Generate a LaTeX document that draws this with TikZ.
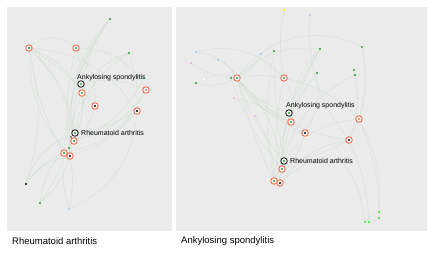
\documentclass[tikz,border=0pt]{standalone}
\usepackage{fontspec}
\setmainfont{Liberation Sans}
\usepackage{tikz}

\definecolor{panelgray}{HTML}{EBEBEB}
\definecolor{ringred}{HTML}{F26A4B}
\definecolor{dotgreen}{HTML}{2E9B2E}
\definecolor{linkgreen}{HTML}{D2E0D2}
\definecolor{paleblue}{HTML}{A9C8F0}
\definecolor{palepink}{HTML}{F2A6E0}
\definecolor{brightgreen}{HTML}{33E633}
\definecolor{dotteal}{HTML}{2A9A8A}
\definecolor{dotorange}{HTML}{E8862A}

\pgfdeclarelayer{bg}
\pgfdeclarelayer{panel}
\pgfsetlayers{panel,bg,main}

\tikzset{
    dot/.style={circle, fill=#1, inner sep=0pt, minimum size=2.2pt},
    hit/.style={circle, draw=ringred, line width=0.9pt, fill=white, inner sep=0pt, minimum size=6.5pt,
        path picture={\fill[#1] (path picture bounding box.center) circle (1.1pt);}},
    query/.style={hit=#1, draw=black!85},
    tag/.style={font=\fontsize{7}{8}\selectfont, inner sep=0pt, anchor=west},
    caption/.style={font=\fontsize{9.5}{11}\selectfont, inner sep=0pt, anchor=west}
}

\begin{document}
\begin{tikzpicture}[
    x=1pt, y=-1pt,
    every edge/.style={draw=linkgreen, line width=0.35pt, bend left=18} % faint curved links
]
\useasboundingbox (0,0) rectangle (436,258);

% Panels
\begin{pgfonlayer}{panel}
\fill[panelgray] (7,7) rectangle (172,231);
\fill[panelgray] (176,7) rectangle (427,231);
\end{pgfonlayer}

% Define the nodes (left panel)
\node[dot=dotgreen] (lA) at (110,19) {};
\node[hit=dotgreen] (lB) at (29,48) {};
\node[hit=dotgreen] (lC) at (76,48) {};
\node[dot=dotgreen] (lD) at (129,53) {};
\node[query=dotgreen] (lAS) at (81,84) {};
\node[tag] (lASt) at (77,78) {Ankylosing spondylitis};
\node[dot=dotteal] (lE) at (144,78) {};
\node[hit=dotgreen] (lF) at (82,93) {};
\node[hit=dotorange] (lG) at (146,90) {};
\node[hit=black] (lH) at (95,106) {};
\node[hit=black] (lI) at (137,111) {};
\node[query=dotgreen] (lRA) at (75,133) {};
\node[tag] (lRAt) at (81,133) {Rheumatoid arthritis};
\node[dot=dotgreen] (lJ) at (71,137) {};
\node[hit=dotgreen] (lK) at (74,141) {};
\node[dot=dotgreen] (lL) at (69,148) {};
\node[hit=dotgreen] (lM) at (64,153) {};
\node[hit=black] (lN) at (70,156) {};
\node[dot=black] (lO) at (26,184) {};
\node[dot=dotgreen] (lP) at (40,203) {};
\node[dot=paleblue] (lQ) at (69,209) {};

% Define the nodes (right panel)
\node[dot=yellow] (rA) at (284,10) {};
\node[dot=palepink] (rB) at (310,15) {};
\node[dot=paleblue] (rC) at (196,52) {};
\node[dot=paleblue] (rD) at (261,54) {};
\node[dot=dotgreen] (rE) at (274,51) {};
\node[dot=dotgreen] (rF) at (320,49) {};
\node[dot=dotgreen] (rG) at (362,47) {};
\node[dot=palepink] (rH) at (191,63) {};
\node[dot=paleblue] (rI) at (218,60) {};
\node[dot=dotgreen] (rJ) at (317,73) {};
\node[dot=dotgreen] (rK) at (354,70) {};
\node[dot=dotgreen] (rL) at (355,75) {};
\node[dot=white] (rM) at (204,79) {};
\node[dot=dotgreen] (rN) at (231,78) {};
\node[hit=dotgreen] (rO) at (237,78) {};
\node[hit=dotgreen] (rP) at (284,78) {};
\node[dot=dotgreen] (rQ) at (196,83) {};
\node[dot=palepink] (rR) at (234,98) {};
\node[dot=palepink] (rS) at (255,116) {};
\node[query=dotgreen] (rAS) at (289,113) {};
\node[tag] (rASt) at (286,106) {Ankylosing spondylitis};
\node[hit=dotgreen] (rT) at (291,122) {};
\node[hit=dotorange] (rU) at (359,119) {};
\node[hit=black] (rV) at (305,133) {};
\node[hit=black] (rW) at (349,140) {};
\node[dot=white] (rX) at (337,154) {};
\node[query=dotgreen] (rRA) at (284,161) {};
\node[tag] (rRAt) at (290,161) {Rheumatoid arthritis};
\node[hit=dotgreen] (rY) at (282,169) {};
\node[hit=dotgreen] (rZ) at (274,181) {};
\node[hit=black] (rZZ) at (280,183) {};
\node[dot=brightgreen] (rG1) at (379,212) {};
\node[dot=brightgreen] (rG2) at (379,218) {};
\node[dot=brightgreen] (rG3) at (365,222) {};
\node[dot=brightgreen] (rG4) at (369,222) {};

% Captions
\node[caption] (capL) at (12,241) {Rheumatoid arthritis};
\node[caption] (capR) at (181,241) {Ankylosing spondylitis};

% Define the links
\begin{pgfonlayer}{bg}
\draw (lB) edge[bend left=40] (lC);
\draw (lB) edge[bend right=20] (lN);
\draw (lB) edge[bend right=10] (lM);
\draw (lB) edge (lK);
\draw (lB) edge (lRA);
\draw (lB) edge[bend left=10] (lH);
\draw (lB) edge[bend left=25] (lI);
\draw (lB) edge (lF);
\draw (lA) edge[bend right=20] (lN);
\draw (lA) edge[bend right=15] (lM);
\draw (lA) edge[bend right=10] (lAS);
\draw (lA) edge[bend right=25] (lK);
\draw (lC) edge[bend right=10] (lN);
\draw (lC) edge (lK);
\draw (lC) edge[bend left=20] (lH);
\draw (lC) edge[bend left=30] (lG);
\draw (lD) edge[bend right=20] (lF);
\draw (lD) edge[bend right=25] (lK);
\draw (lD) edge[bend left=10] (lI);
\draw (lAS) edge (lG);
\draw (lAS) edge[bend right=15] (lRA);
\draw (lG) edge[bend left=20] (lK);
\draw (lG) edge[bend left=25] (lM);
\draw (lI) edge[bend left=15] (lN);
\draw (lI) edge[bend left=10] (lRA);
\draw (lH) edge[bend left=15] (lM);
\draw (lE) edge[bend left=20] (lK);
\draw (lF) edge[bend right=10] (lN);
\draw (lF) edge (lL);
\draw (lO) edge[bend left=15] (lM);
\draw (lO) edge[bend left=20] (lN);
\draw (lO) edge[bend left=25] (lRA);
\draw (lO) edge[bend right=15] (lB);
\draw (lP) edge[bend right=15] (lN);
\draw (lP) edge[bend right=10] (lM);
\draw (lP) edge[bend left=20] (lK);
\draw (lQ) edge[bend right=10] (lN);
\draw (lQ) edge[bend left=10] (lM);
\draw (lQ) edge[bend right=30] (lI);

\draw (rC) edge[bend left=25] (rO);
\draw (rH) edge[bend right=15] (rO);
\draw (rI) edge (rO);
\draw (rQ) edge[bend right=20] (rO);
\draw (rD) edge[bend left=15] (rO);
\draw (rC) edge[bend left=30] (rP);
\draw (rO) edge[bend left=40] (rG);
\draw (rO) edge[bend left=25] (rF);
\draw (rO) edge[bend right=15] (rAS);
\draw (rO) edge[bend right=20] (rT);
\draw (rO) edge[bend right=15] (rV);
\draw (rO) edge[bend right=20] (rW);
\draw (rO) edge[bend right=10] (rRA);
\draw (rO) edge[bend right=5] (rZ);
\draw (rO) edge (rY);
\draw (rO) edge[bend left=10] (rP);
\draw (rA) edge[bend right=10] (rP);
\draw (rB) edge[bend right=20] (rW);
\draw (rE) edge[bend right=10] (rZ);
\draw (rE) edge[bend right=5] (rRA);
\draw (rF) edge[bend right=15] (rZZ);
\draw (rF) edge[bend right=20] (rT);
\draw (rF) edge[bend right=10] (rY);
\draw (rG) edge[bend left=20] (rW);
\draw (rG) edge[bend left=10] (rU);
\draw (rJ) edge[bend right=15] (rZ);
\draw (rJ) edge (rV);
\draw (rK) edge[bend left=15] (rW);
\draw (rL) edge[bend right=25] (rY);
\draw (rP) edge[bend right=10] (rZZ);
\draw (rP) edge[bend left=15] (rU);
\draw (rP) edge (rT);
\draw (rAS) edge[bend right=10] (rRA);
\draw (rU) edge[bend right=30] (rZ);
\draw (rW) edge[bend right=20] (rZZ);
\draw (rW) edge[bend left=10] (rRA);
\draw (rV) edge[bend left=15] (rZ);
\draw (rX) edge[bend right=15] (rZZ);
\draw (rX) edge[bend left=15] (rG3);
\draw (rW) edge[bend left=10] (rG4);
\draw (rU) edge[bend left=15] (rG1);
\draw (rU) edge[bend left=10] (rG2);
\draw (rG1) edge[bend right=10] (rG3);
\draw (rG2) edge (rG4);
\draw (rM) edge[bend left=20] (rO);
\draw (rR) edge[bend left=10] (rT);
\draw (rS) edge[bend left=15] (rZ);
\draw (rN) edge[bend right=10] (rY);
\end{pgfonlayer}

\end{tikzpicture}
\end{document}
